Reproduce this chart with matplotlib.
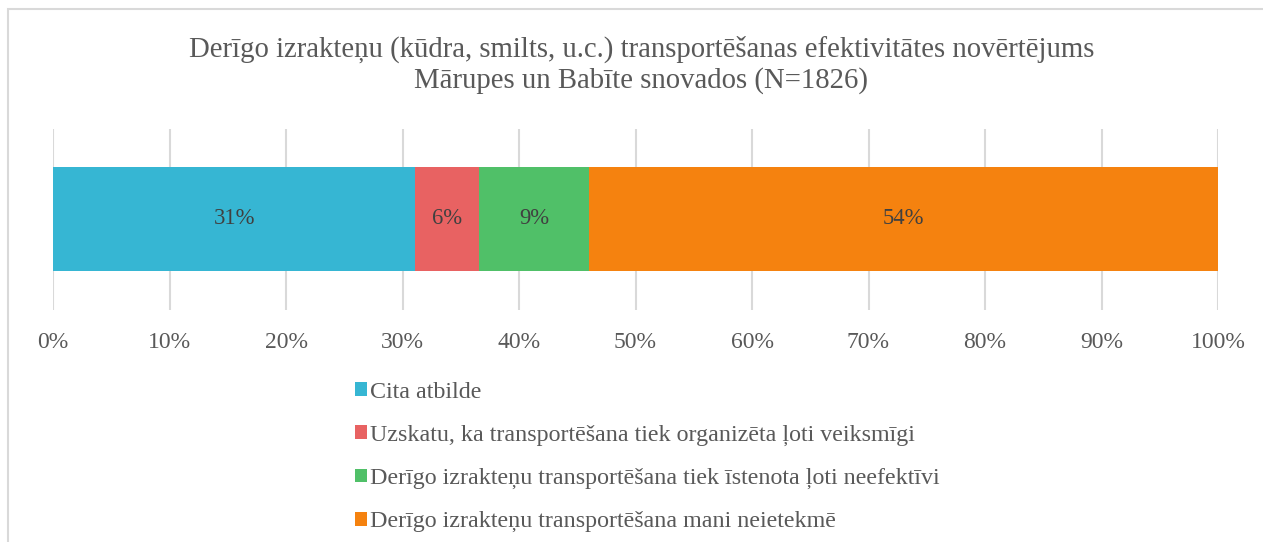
import matplotlib
matplotlib.use("Agg")
import matplotlib.pyplot as plt
from matplotlib.patches import Rectangle, Patch

# survey answers, share of respondents (%)
categories = [
    "Cita atbilde",
    "Uzskatu, ka transportēšana tiek organizēta ļoti veiksmīgi",
    "Derīgo izrakteņu transportēšana tiek īstenota ļoti neefektīvi",
    "Derīgo izrakteņu transportēšana mani neietekmē",
]
values = [31.1, 5.5, 9.4, 54.0]
bar_labels = ["31%", "6%", "9%", "54%"]
colors = ["#36B6D3", "#E86262", "#50C068", "#F5820F"]
tick_values = [0, 10, 20, 30, 40, 50, 60, 70, 80, 90, 100]
tick_labels = [f"{t}%" for t in tick_values]
title = ("Derīgo izrakteņu (kūdra, smilts, u.c.) transportēšanas efektivitātes novērtējums\n"
         "Mārupes un Babīte snovados (N=1826)")

plt.rcParams["font.family"] = ["Liberation Serif", "DejaVu Serif"]
W, H = 1263, 542
fig = plt.figure(figsize=(W / 100, H / 100), dpi=100)

# light frame like the office chart area
fig.patches.append(Rectangle((8 / W, -0.1), 2, 1 - 9 / H + 0.1, transform=fig.transFigure,
                             fill=False, edgecolor="#D9D9D9", linewidth=1.5))

ax = fig.add_axes([53 / W, 1 - 310 / H, (1218 - 53) / W, (310 - 129) / H])

left = 0
for val, lab, col in zip(values, bar_labels, colors):
    ax.barh(0, val, left=left, height=1, color=col, zorder=2)
    ax.text(left + val / 2, 0, lab, ha="center", va="center", fontsize=16.3, color="#404040", zorder=3)
    left += val

ax.set_xlim(0, 100)
ax.set_ylim(-0.875, 0.865)
ax.set_xticks(tick_values)
ax.set_xticklabels(tick_labels, fontsize=17, color="#595959")
ax.set_yticks([])
ax.tick_params(axis="x", length=0, pad=16)
ax.xaxis.grid(True, color="#D9D9D9", linewidth=1.5, zorder=0)
ax.set_axisbelow(True)
for s in ax.spines.values():
    s.set_visible(False)

fig.text(0.5 + 10 / W, 1 - 65 / H, title, ha="center", va="center", fontsize=20.7,
         color="#595959", linespacing=1.2)

handles = [Patch(facecolor=c, edgecolor="none") for c in colors]
fig.legend(handles, categories, loc="upper left", bbox_to_anchor=(345 / W, 1 - 372 / H),
           frameon=False, fontsize=17.3, labelcolor="#595959", handlelength=0.5,
           handleheight=0.5, handletextpad=0.15, labelspacing=0.92, borderaxespad=0)

fig.savefig("out.png", dpi=100)
